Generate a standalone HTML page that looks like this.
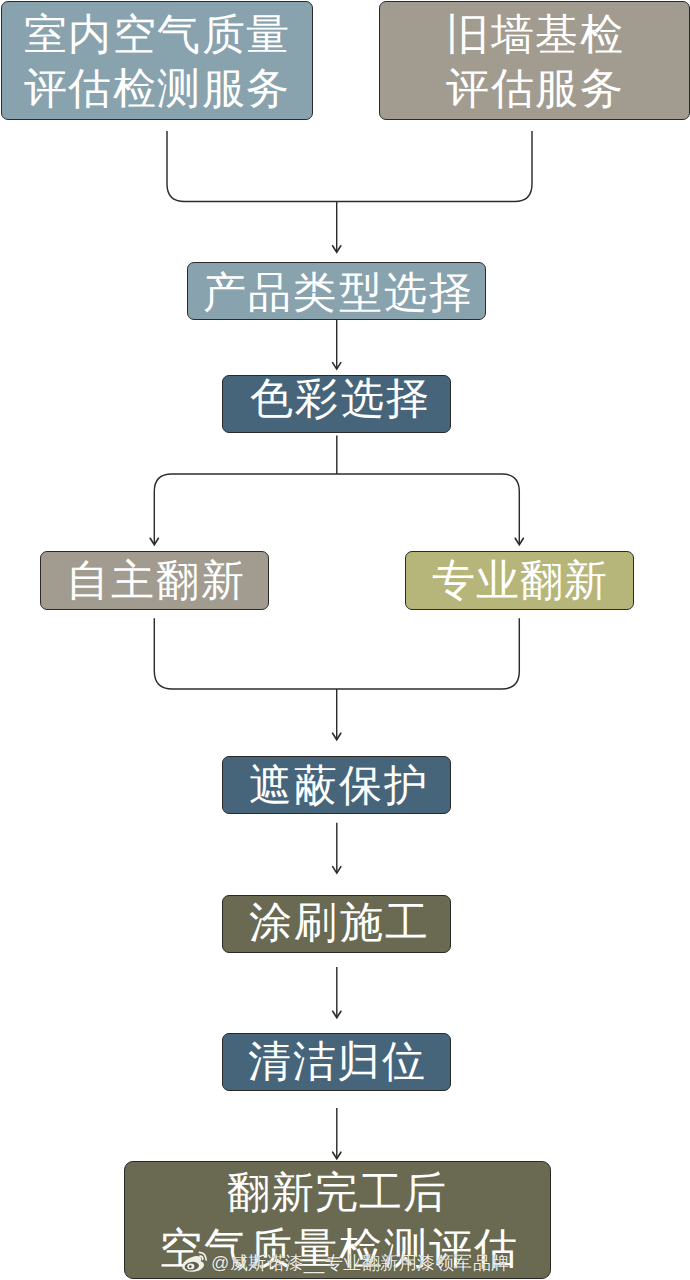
<!DOCTYPE html>
<html><head><meta charset="utf-8">
<style>
html,body{margin:0;padding:0;background:#fff;}
body{width:690px;height:1280px;position:relative;overflow:hidden;font-family:"Liberation Sans",sans-serif;}
.b{position:absolute;box-sizing:border-box;border:1.8px solid #2b2a27;border-radius:7px;}
.t{position:absolute;color:#fff;font-size:43px;line-height:54px;white-space:nowrap;letter-spacing:1.5px;}
.c1{background:#88a2ae;}
.c2{background:#a29c90;}
.c3{background:#47657a;}
.c4{background:#b7b67a;}
.c5{background:#6a6a52;}
svg{position:absolute;left:0;top:0;}
.wm{position:absolute;left:211px;top:1251.5px;font-size:18px;line-height:22px;letter-spacing:0.5px;color:#eeeeea;white-space:nowrap;text-shadow:0 0 1px rgba(40,40,30,.7);}
</style></head><body>
<div class="b c1" style="left:1px;top:1px;width:312px;height:119px;"></div>
<div class="b c2" style="left:379px;top:1px;width:311px;height:119px;"></div>
<div class="b c1" style="left:187px;top:262px;width:299px;height:58px;"></div>
<div class="b c3" style="left:222px;top:375px;width:229px;height:58px;"></div>
<div class="b c2" style="left:39.5px;top:551px;width:229.5px;height:58.5px;"></div>
<div class="b c4" style="left:405px;top:551px;width:229px;height:58.5px;"></div>
<div class="b c3" style="left:222px;top:756px;width:229px;height:58px;"></div>
<div class="b c5" style="left:222px;top:894.5px;width:229px;height:58px;"></div>
<div class="b c3" style="left:222px;top:1032.5px;width:229px;height:58px;"></div>
<div class="b c5" style="left:123.5px;top:1160.5px;width:427px;height:118.5px;border-radius:9px;"></div>

<svg width="690" height="1280" viewBox="0 0 690 1280">
<g fill="none" stroke="#2c2c2c" stroke-width="1.45" stroke-linecap="butt">
<path d="M167 131 V184 Q167 201.5 184.5 201.5 H514.5 Q532 201.5 532 184 V131"/>
<path d="M336.7 201.5 V252"/>
<path d="M336.7 320 V368.5"/>
<path d="M336.8 435.5 V474"/>
<path d="M154.3 544 V491.5 Q154.3 474 171.8 474 H501.8 Q519.3 474 519.3 491.5 V544"/>
<path d="M154.3 618.3 V671 Q154.3 689 172.3 689 H501.3 Q519.3 689 519.3 671 V618.3"/>
<path d="M336.7 689 V739.5"/>
<path d="M336.8 822.8 V873"/>
<path d="M336.8 967 V1017.5"/>
<path d="M336.8 1108 V1158.5"/>
</g>
<g fill="none" stroke="#2c2c2c" stroke-width="1.6" stroke-linejoin="miter" stroke-linecap="round">
<path d="M332.6 245.8 L336.7 252.3 L340.8 245.8"/>
<path d="M332.6 362.6 L336.7 369.1 L340.8 362.6"/>
<path d="M150.2 538.3 L154.3 544.8 L158.4 538.3"/>
<path d="M515.2 538.3 L519.3 544.8 L523.4 538.3"/>
<path d="M332.6 733.2 L336.7 739.7 L340.8 733.2"/>
<path d="M332.7 866.6 L336.8 873.1 L340.9 866.6"/>
<path d="M332.7 1011.3 L336.8 1017.8 L340.9 1011.3"/>
<path d="M332.7 1152.2 L336.8 1158.7 L340.9 1152.2"/>
</g>
</svg>

<div class="t" style="left:23.8px;top:6.6px;">室内空气质量<br>评估检测服务</div>
<div class="t" style="left:446px;top:6.7px;">旧墙基检<br>评估服务</div>
<div class="t" style="left:202.7px;top:265px;letter-spacing:2.3px;">产品类型选择</div>
<div class="t" style="left:249.5px;top:371.4px;letter-spacing:2.5px;">色彩选择</div>
<div class="t" style="left:66.2px;top:552.6px;letter-spacing:1.9px;">自主翻新</div>
<div class="t" style="left:432.3px;top:553.2px;letter-spacing:1px;">专业翻新</div>
<div class="t" style="left:249.3px;top:758.2px;letter-spacing:1.9px;">遮蔽保护</div>
<div class="t" style="left:248.5px;top:895.3px;letter-spacing:2.5px;">涂刷施工</div>
<div class="t" style="left:248px;top:1034px;">清洁归位</div>
<div class="t" style="left:227px;top:1165px;letter-spacing:1px;">翻新完工后</div>
<div class="t" style="left:159px;top:1221px;letter-spacing:2px;">空气质量检测评估</div>

<svg width="690" height="1280" viewBox="0 0 690 1280">
<path d="M196.5 1256 C191 1256.5 185 1260 182.8 1264 C180.8 1268 183.5 1271.5 191 1271.8 C199 1272 204.5 1268 204 1264.5 C203.8 1262.5 202 1261.8 200.8 1261.5 C201.8 1259.5 201.5 1255.8 196.5 1256 Z" fill="#f0f0ea"/>
<ellipse cx="191.8" cy="1266.2" rx="7.2" ry="4.3" transform="rotate(-8 191.8 1266.2)" fill="#5f5f4c"/>
<ellipse cx="190.8" cy="1266.4" rx="3.6" ry="2.9" fill="#f0f0ea"/>
<circle cx="190.3" cy="1266.6" r="1.3" fill="#4a4a3c"/>
<g fill="none" stroke="#f0f0ea" stroke-width="1.7" stroke-linecap="round">
<path d="M199.4 1252.3 Q205.8 1252.6 206.2 1260"/>
<path d="M200 1256.2 Q202.9 1256.4 202.8 1259.3"/>
</g>
</svg>
<div class="wm">@威斯诺漆__专业翻新用漆领军品牌</div>
</body></html>
